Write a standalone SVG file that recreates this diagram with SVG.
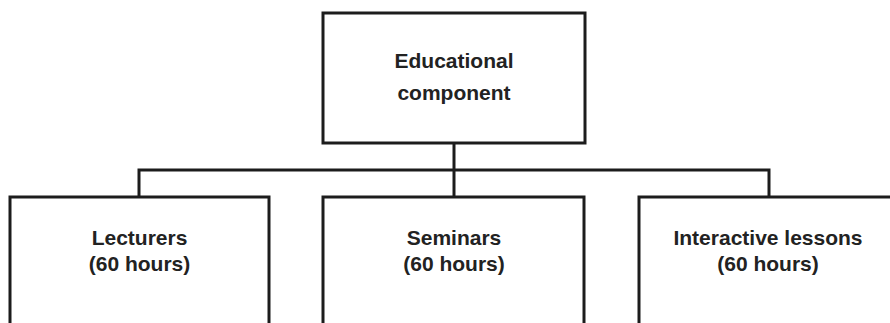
<svg xmlns="http://www.w3.org/2000/svg" width="890" height="323" viewBox="0 0 890 323">
  <style>
    .box { fill: #ffffff; stroke: #1c1c1c; stroke-width: 3; }
    .conn { fill: none; stroke: #1c1c1c; stroke-width: 3; }
    .lbl { font-family: "Liberation Sans", Arial, sans-serif; font-weight: bold; font-size: 21px; fill: #222222; text-anchor: middle; }
  </style>
  <rect x="0" y="0" width="890" height="323" fill="#ffffff"/>
  <g id="connectors">
    <line class="conn" x1="454" y1="143" x2="454" y2="197"/>
    <polyline class="conn" points="139,197 139,170 769,170 769,197"/>
  </g>
  <g id="node-educational">
    <rect class="box" x="323" y="13" width="262" height="130"/>
    <text class="lbl" x="454" y="68">Educational</text>
    <text class="lbl" x="454" y="100">component</text>
  </g>
  <g id="node-lecturers">
    <rect class="box" x="10" y="197" width="259" height="140"/>
    <text class="lbl" x="139.5" y="245">Lecturers</text>
    <text class="lbl" x="139.5" y="271">(60 hours)</text>
  </g>
  <g id="node-seminars">
    <rect class="box" x="323" y="197" width="261" height="140"/>
    <text class="lbl" x="454" y="245">Seminars</text>
    <text class="lbl" x="454" y="271">(60 hours)</text>
  </g>
  <g id="node-interactive">
    <rect class="box" x="639" y="197" width="258" height="140"/>
    <text class="lbl" x="768" y="245">Interactive lessons</text>
    <text class="lbl" x="768" y="271">(60 hours)</text>
  </g>
</svg>
